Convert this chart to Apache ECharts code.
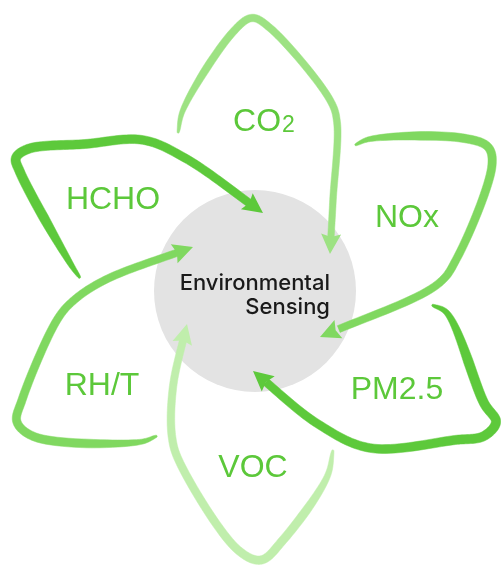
<!DOCTYPE html>
<html>
<head>
<meta charset="utf-8">
<script src="https://cdn.jsdelivr.net/npm/echarts@6/dist/echarts.min.js"></script>
<style>
  html, body { margin: 0; padding: 0; background: #fff; }
  #chart { width: 501px; height: 568px; }
</style>
</head>
<body>
<div id="chart"></div>
<script>
// 传感项目
const labels = ['CO2', 'NOx', 'PM2.5', 'VOC', 'RH/T', 'HCHO']
// 标签位置 (数据坐标)
const labelPoints = [[264, 122], [407, 218], [397, 390], [253, 468], [102, 386], [113, 200]]
// 花瓣轮廓: 起点 -> 箭头尖
const petalPaths = [
  [[178, 133], [183, 110], [233, 32], [252, 18], [270, 28], [330, 100], [337, 122], [333, 200], [330, 254]],
  [[355, 145], [370, 139], [462, 138], [488, 147], [492, 165], [457, 258], [438, 284], [320, 337]],
  [[432, 305], [447, 313], [484, 403], [496, 422], [484, 436], [455, 440], [370, 448], [318, 424], [253, 371]],
  [[333, 450], [327, 477], [283, 540], [261, 560], [238, 550], [180, 463], [172, 437], [173, 387], [187, 324]],
  [[157, 436], [140, 442], [35, 437], [17, 422], [22, 400], [57, 320], [73, 301], [105, 280], [193, 247]],
  [[80, 278], [70, 263], [20, 172], [16, 158], [28, 149], [85, 144], [143, 140], [185, 158], [263, 213]]
]
const hub = [255, 291]
const hubRadius = 101
const hubText = ['Environmental', 'Sensing']

const petalColors = ['#9de283', '#80d860', '#5dc93b', '#c0eeac', '#80d860', '#5dc93b']
const petalWidths = [8, 9, 10, 9, 9, 10]
const labelColor = '#5cc83a'

// 向心 Catmull-Rom 插值
function spline(pts, steps) {
  const out = []
  const n = pts.length
  const lerp = (a, b, ta, tb, t) => {
    const d = tb - ta
    return [(tb - t) / d * a[0] + (t - ta) / d * b[0], (tb - t) / d * a[1] + (t - ta) / d * b[1]]
  }
  for (let i = 0; i < n - 1; i++) {
    const p1 = pts[i], p2 = pts[i + 1]
    const p0 = i > 0 ? pts[i - 1] : [2 * p1[0] - p2[0], 2 * p1[1] - p2[1]]
    const p3 = i < n - 2 ? pts[i + 2] : [2 * p2[0] - p1[0], 2 * p2[1] - p1[1]]
    const dt = (a, b) => Math.max(1e-3, Math.sqrt(Math.hypot(b[0] - a[0], b[1] - a[1])))
    const t0 = 0, t1 = t0 + dt(p0, p1), t2 = t1 + dt(p1, p2), t3 = t2 + dt(p2, p3)
    for (let s = 0; s < steps; s++) {
      const t = t1 + (t2 - t1) * s / steps
      const a1 = lerp(p0, p1, t0, t1, t), a2 = lerp(p1, p2, t1, t2, t), a3 = lerp(p2, p3, t2, t3, t)
      const b1 = lerp(a1, a2, t0, t2, t), b2 = lerp(a2, a3, t1, t3, t)
      out.push(lerp(b1, b2, t1, t2, t))
    }
  }
  out.push(pts[n - 1].slice())
  return out
}

function petalShapes(pts, wMax, color) {
  const dense = spline(pts, 20)
  const len = [0]
  for (let i = 1; i < dense.length; i++) {
    len.push(len[i - 1] + Math.hypot(dense[i][0] - dense[i - 1][0], dense[i][1] - dense[i - 1][1]))
  }
  const total = len[len.length - 1]
  const arrowLen = 20, arrowHalf = 10
  const cut = total - arrowLen * 0.7
  const left = [], right = []
  for (let i = 0; i < dense.length && len[i] <= cut; i++) {
    const a = dense[Math.max(0, i - 2)], b = dense[Math.min(dense.length - 1, i + 2)]
    const dx = b[0] - a[0], dy = b[1] - a[1], d = Math.hypot(dx, dy) || 1
    const nx = -dy / d, ny = dx / d
    const taper = Math.min(1, len[i] / 70)
    const w = (1.5 + (wMax - 1.5) * Math.sqrt(taper)) * (1 - 0.2 * len[i] / total)
    left.push([dense[i][0] + nx * w / 2, dense[i][1] + ny * w / 2])
    right.push([dense[i][0] - nx * w / 2, dense[i][1] - ny * w / 2])
  }
  const tip = dense[dense.length - 1]
  let j = dense.length - 1
  while (j > 0 && total - len[j] < arrowLen) j--
  const bx = tip[0] - dense[j][0], by = tip[1] - dense[j][1], bd = Math.hypot(bx, by) || 1
  const ux = bx / bd, uy = by / bd
  const base = [tip[0] - ux * arrowLen, tip[1] - uy * arrowLen]
  return [
    { type: 'polygon', shape: { points: left.concat(right.reverse()) }, style: { fill: color, stroke: color, lineWidth: 0.5 } },
    {
      type: 'polygon',
      shape: { points: [tip, [base[0] - uy * arrowHalf, base[1] + ux * arrowHalf], [base[0] + ux * 3, base[1] + uy * 3], [base[0] + uy * arrowHalf, base[1] - ux * arrowHalf]] },
      style: { fill: color }
    }
  ]
}

const chart = echarts.init(document.getElementById('chart'))
chart.setOption({
  animation: false,
  grid: { left: 0, right: 0, top: 0, bottom: 0 },
  xAxis: { type: 'value', min: 0, max: 501, show: false },
  yAxis: { type: 'value', min: 0, max: 568, inverse: true, show: false },
  series: [
    {
      type: 'custom',
      data: [hub],
      renderItem: (params, api) => {
        const c = api.coord(hub)
        const r = api.size([hubRadius, 0])[0]
        const right = api.coord([hub[0] + 75, hub[1]])[0]
        return {
          type: 'group',
          children: [
            { type: 'circle', shape: { cx: c[0], cy: c[1], r }, style: { fill: '#e3e3e3' } },
            { type: 'text', style: { text: hubText[0], x: right, y: c[1] - 8, align: 'right', verticalAlign: 'middle', font: '500 22px Inter', fill: '#1a1a1a' } },
            { type: 'text', style: { text: hubText[1], x: right, y: c[1] + 16, align: 'right', verticalAlign: 'middle', font: '500 22px Inter', fill: '#1a1a1a' } }
          ]
        }
      }
    },
    {
      type: 'custom',
      data: labels.map((l, i) => [i]),
      renderItem: (params, api) => {
        const i = params.dataIndex
        const pts = petalPaths[i].map(p => api.coord(p))
        const lp = api.coord(labelPoints[i])
        const isCO2 = labels[i] === 'CO2'
        return {
          type: 'group',
          children: petalShapes(pts, petalWidths[i], petalColors[i]).concat([{
            type: 'text',
            style: {
              text: isCO2 ? '{a|CO}{b|2}' : labels[i],
              x: lp[0], y: lp[1], align: 'center', verticalAlign: 'middle',
              font: '400 32px "Liberation Sans"', fill: labelColor,
              rich: isCO2 ? {
                a: { font: '400 32px "Liberation Sans"', fill: labelColor, verticalAlign: 'bottom' },
                b: { font: '400 23px "Liberation Sans"', fill: labelColor, verticalAlign: 'bottom', padding: [0, 0, 1, 1] }
              } : undefined
            }
          }])
        }
      }
    }
  ]
})
</script>
</body>
</html>
